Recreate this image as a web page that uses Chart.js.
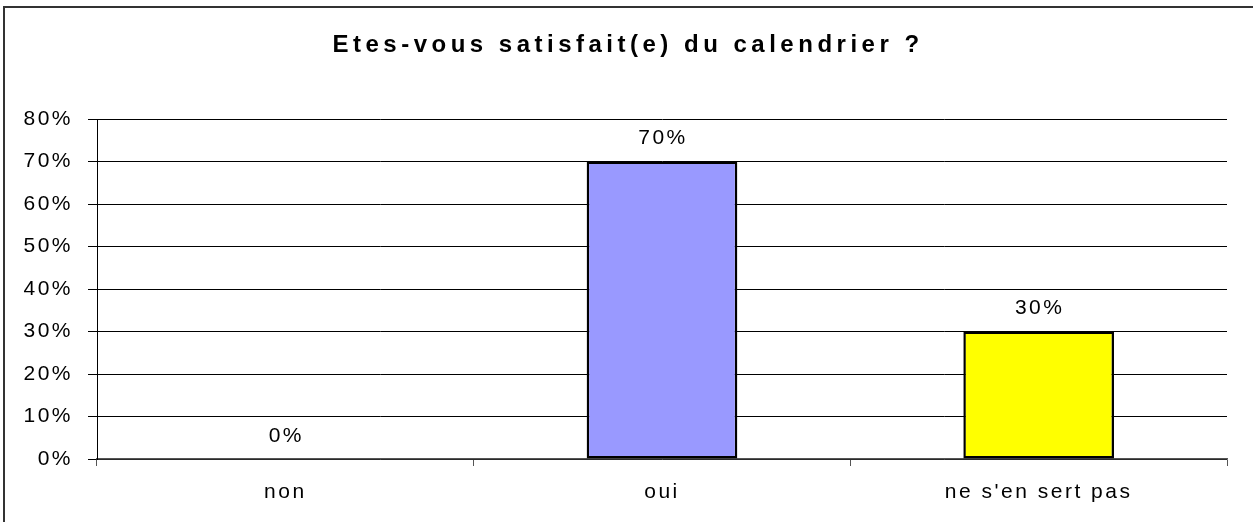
<!DOCTYPE html>
<html>
<head>
<meta charset="utf-8">
<script src="https://cdn.jsdelivr.net/npm/chart.js@4.4.1/dist/chart.umd.min.js"></script>
<style>
    html, body { margin: 0; padding: 0; background: #fff; }
    #wrap { width: 1253px; height: 522px; }
</style>
</head>
<body>
<div id="wrap"><canvas id="myChart" width="1253" height="522"></canvas></div>
<script>
const titleText = 'Etes-vous satisfait(e) du calendrier ?';
const categories = ['non', 'oui', "ne s'en sert pas"];
const values = [0, 70, 30];
const barColors = ['#993366', '#9999FF', '#FFFF00'];
const yMax = 80;
const yStep = 10;

const fontFamily = '"Liberation Sans", Arial, Helvetica, sans-serif';
const spacing = '2.5px';

// canvas letter spacing, reset each time canvas gets resized
const spacingPlugin = {
    id: 'spacing',
    beforeUpdate(chart) { chart.ctx.letterSpacing = spacing; },
    beforeDraw(chart) {
        const ctx = chart.ctx;
        ctx.letterSpacing = spacing;
        // outer frame
        ctx.save();
        ctx.fillStyle = '#fff';
        ctx.fillRect(0, 0, chart.width, chart.height);
        ctx.strokeStyle = '#333';
        ctx.lineWidth = 2;
        ctx.strokeRect(4, 7, chart.width + 20, chart.height + 20);
        ctx.restore();
    }
};

const labelPlugin = {
    id: 'barLabels',
    afterDatasetsDraw(chart) {
        const ctx = chart.ctx;
        const meta = chart.getDatasetMeta(0);
        ctx.save();
        ctx.font = '21px ' + fontFamily;
        ctx.letterSpacing = spacing;
        ctx.fillStyle = '#000';
        ctx.textAlign = 'center';
        ctx.textBaseline = 'middle';
        meta.data.forEach(function(bar, i) {
            ctx.fillText(values[i] + '%', bar.x + 1, bar.y - 23);
        });
        ctx.restore();
    },
    afterDraw(chart) {
        const ctx = chart.ctx;
        ctx.save();
        ctx.font = 'bold 24px ' + fontFamily;
        ctx.letterSpacing = '4.5px';
        ctx.fillStyle = '#000';
        ctx.textAlign = 'center';
        ctx.textBaseline = 'middle';
        ctx.fillText(titleText, chart.width / 2 + 1.5, 45);
        ctx.restore();
    }
};

const ctx = document.getElementById('myChart').getContext('2d');
const myChart = new Chart(ctx, {
    type: 'bar',
    data: {
        labels: categories,
        datasets: [{
            data: values,
            backgroundColor: barColors,
            borderColor: '#000',
            borderWidth: 2.5,
            borderSkipped: false,
            categoryPercentage: 0.4,
            barPercentage: 1.0
        }]
    },
    plugins: [spacingPlugin, labelPlugin],
    options: {
        responsive: false,
        animation: false,
        layout: {
            padding: { top: 119, right: 26, left: 0, bottom: 0 }
        },
        plugins: {
            legend: { display: false },
            title: { display: false },
            tooltip: { enabled: false }
        },
        scales: {
            x: {
                afterFit(scale) { scale.height = 63; },
                grid: {
                    offset: true,
                    drawOnChartArea: false,
                    drawTicks: true,
                    tickLength: 7,
                    color: '#555'
                },
                border: { display: true, color: '#555', width: 1.5 },
                ticks: {
                    color: '#000',
                    padding: 14,
                    font: { family: fontFamily, size: 21 }
                }
            },
            y: {
                min: 0,
                max: yMax,
                afterFit(scale) { scale.width = 97; },
                grid: {
                    color: '#000',
                    lineWidth: 1,
                    tickLength: 9
                },
                border: { display: true, color: '#000', width: 1 },
                ticks: {
                    stepSize: yStep,
                    color: '#000',
                    padding: 15,
                    font: { family: fontFamily, size: 21 },
                    callback: function(v) { return v + '%'; }
                }
            }
        }
    }
});
</script>
</body>
</html>
